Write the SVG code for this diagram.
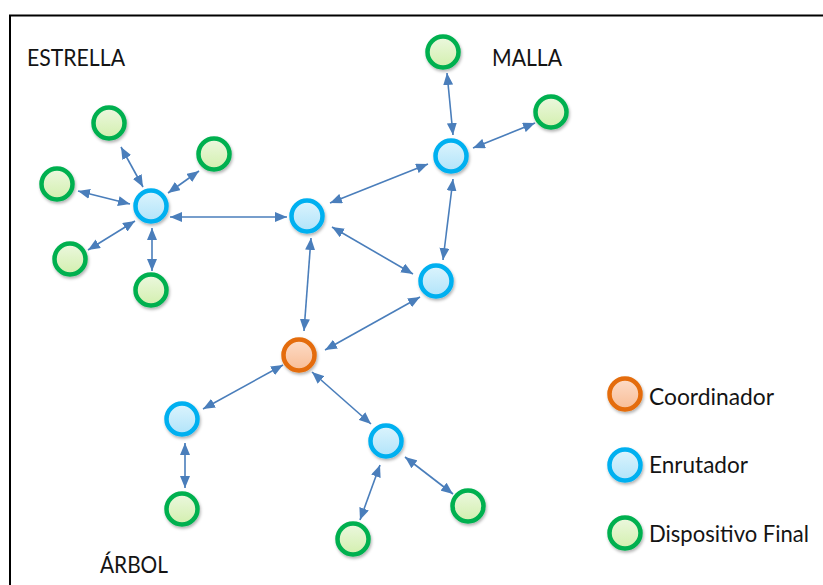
<svg xmlns="http://www.w3.org/2000/svg" width="823" height="585" viewBox="0 0 823 585">
<style>
.lbl{font-family:Lato,"Liberation Sans",sans-serif;font-size:22.5px;fill:#141414}
.c{stroke-width:4.5}
.r{fill:url(#gR);stroke:#00b0f0}
.g{fill:url(#gG);stroke:#00b050}
.k{fill:url(#gK);stroke:#e46c0a}
#edges line{stroke:#4a7ebb;stroke-width:1.6;marker-start:url(#ah);marker-end:url(#ah)}
</style>
<defs>
<linearGradient id="gR" x1="0" y1="0" x2="0" y2="1"><stop offset="0" stop-color="#dcf4fd"/><stop offset="1" stop-color="#b1e4fa"/></linearGradient>
<linearGradient id="gG" x1="0" y1="0" x2="0" y2="1"><stop offset="0" stop-color="#ecf8df"/><stop offset="1" stop-color="#d3efae"/></linearGradient>
<linearGradient id="gK" x1="0" y1="0" x2="0" y2="1"><stop offset="0" stop-color="#fddcc8"/><stop offset="1" stop-color="#f8bd96"/></linearGradient>
<filter id="sh" x="-50%" y="-50%" width="200%" height="200%"><feDropShadow dx="1" dy="2" stdDeviation="1.5" flood-color="#000" flood-opacity="0.3"/></filter>
<marker id="ah" markerUnits="userSpaceOnUse" markerWidth="12" markerHeight="10" refX="12" refY="5" orient="auto-start-reverse" viewBox="0 0 12 10"><path d="M0,0 L12,5 L0,10 z" fill="#4a7ebb"/></marker>
</defs>
<rect width="823" height="585" fill="#fff"/>
<path d="M10,585 V15.5 H823" fill="none" stroke="#000" stroke-width="2"/>
<g id="labels">
<text class="lbl" x="27" y="66" textLength="98" lengthAdjust="spacingAndGlyphs">ESTRELLA</text>
<text class="lbl" x="492" y="66" textLength="70" lengthAdjust="spacingAndGlyphs">MALLA</text>
<text class="lbl" x="100" y="573" textLength="68" lengthAdjust="spacingAndGlyphs">ÁRBOL</text>
</g>
<g id="edges">
<line x1="121" y1="147" x2="143" y2="187"/>
<line x1="199" y1="171" x2="168" y2="193"/>
<line x1="78" y1="191" x2="130" y2="204"/>
<line x1="88" y1="250" x2="135" y2="221"/>
<line x1="152" y1="228" x2="152" y2="271"/>
<line x1="170" y1="217" x2="287" y2="217"/>
<line x1="447" y1="73" x2="453" y2="135"/>
<line x1="535" y1="123" x2="473" y2="148"/>
<line x1="330" y1="203" x2="428" y2="164"/>
<line x1="453" y1="179" x2="443" y2="260"/>
<line x1="332" y1="227" x2="413" y2="274"/>
<line x1="311" y1="238" x2="304" y2="331"/>
<line x1="420" y1="297" x2="325" y2="350"/>
<line x1="283" y1="365" x2="203" y2="409"/>
<line x1="312" y1="372" x2="371" y2="424"/>
<line x1="185" y1="443" x2="185" y2="488"/>
<line x1="380" y1="465" x2="360" y2="520"/>
<line x1="405" y1="457" x2="453" y2="494"/>
</g>
<g id="star-router" filter="url(#sh)"><circle class="c r" cx="151" cy="206" r="15.5"/></g>
<g id="star-dev-top" filter="url(#sh)"><circle class="c g" cx="109" cy="123" r="15.5"/></g>
<g id="star-dev-topright" filter="url(#sh)"><circle class="c g" cx="214" cy="154" r="15.5"/></g>
<g id="star-dev-left" filter="url(#sh)"><circle class="c g" cx="57" cy="184" r="15.5"/></g>
<g id="star-dev-bottomleft" filter="url(#sh)"><circle class="c g" cx="70" cy="259" r="15.5"/></g>
<g id="star-dev-bottom" filter="url(#sh)"><circle class="c g" cx="151" cy="290" r="15.5"/></g>
<g id="mesh-router-a" filter="url(#sh)"><circle class="c r" cx="307" cy="216" r="15.5"/></g>
<g id="mesh-router-b" filter="url(#sh)"><circle class="c r" cx="451" cy="156" r="15.5"/></g>
<g id="mesh-router-c" filter="url(#sh)"><circle class="c r" cx="436" cy="281" r="15.5"/></g>
<g id="mesh-dev-top" filter="url(#sh)"><circle class="c g" cx="443" cy="52" r="15.5"/></g>
<g id="mesh-dev-right" filter="url(#sh)"><circle class="c g" cx="551" cy="112" r="15.5"/></g>
<g id="coordinator" filter="url(#sh)"><circle class="c k" cx="299" cy="355" r="15.5"/></g>
<g id="tree-router-left" filter="url(#sh)"><circle class="c r" cx="182" cy="419" r="15.5"/></g>
<g id="tree-router-right" filter="url(#sh)"><circle class="c r" cx="386" cy="441" r="15.5"/></g>
<g id="tree-dev-left" filter="url(#sh)"><circle class="c g" cx="182" cy="509" r="15.5"/></g>
<g id="tree-dev-bottom" filter="url(#sh)"><circle class="c g" cx="353" cy="539" r="15.5"/></g>
<g id="tree-dev-right" filter="url(#sh)"><circle class="c g" cx="468" cy="506" r="15.5"/></g>
<g id="legend">
<g id="legend-coordinator"><circle class="c k" cx="625" cy="394" r="15.5" filter="url(#sh)"/><text class="lbl" x="649" y="405" textLength="125" lengthAdjust="spacingAndGlyphs">Coordinador</text></g>
<g id="legend-router"><circle class="c r" cx="625" cy="465" r="15.5" filter="url(#sh)"/><text class="lbl" x="649" y="473" textLength="99" lengthAdjust="spacingAndGlyphs">Enrutador</text></g>
<g id="legend-device"><circle class="c g" cx="625" cy="533" r="15.5" filter="url(#sh)"/><text class="lbl" x="649" y="542" textLength="160" lengthAdjust="spacingAndGlyphs">Dispositivo Final</text></g>
</g>
</svg>
